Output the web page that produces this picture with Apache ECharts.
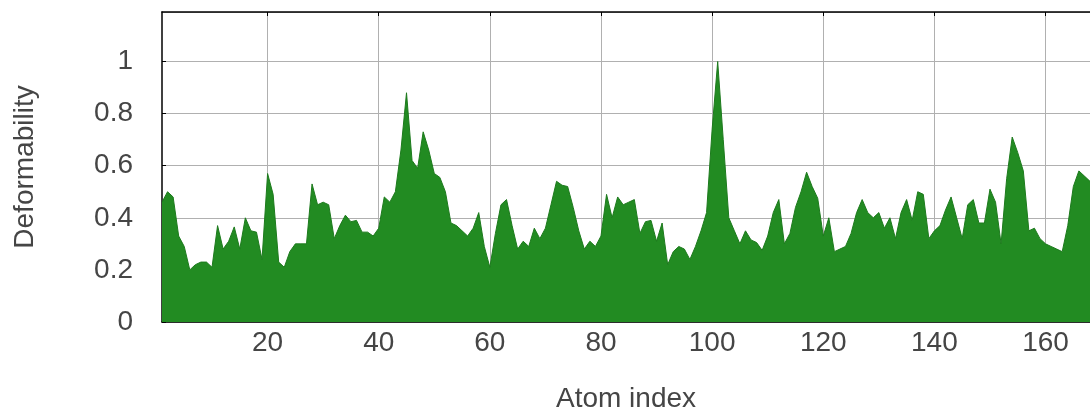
<!DOCTYPE html>
<html>
<head>
<meta charset="utf-8">
<script src="https://cdn.jsdelivr.net/npm/echarts@6/dist/echarts.min.js"></script>
<style>
  html, body { margin: 0; padding: 0; background: #ffffff; }
  #chart { width: 1090px; height: 418px; }
</style>
</head>
<body>
<div id="chart"></div>
<script>
// Atom indices 1..168 (x categories)
const atomIndex = [
  1,2,3,4,5,6,7,8,9,10,11,12,13,14,15,16,17,18,19,20,
  21,22,23,24,25,26,27,28,29,30,31,32,33,34,35,36,37,38,39,40,
  41,42,43,44,45,46,47,48,49,50,51,52,53,54,55,56,57,58,59,60,
  61,62,63,64,65,66,67,68,69,70,71,72,73,74,75,76,77,78,79,80,
  81,82,83,84,85,86,87,88,89,90,91,92,93,94,95,96,97,98,99,100,
  101,102,103,104,105,106,107,108,109,110,111,112,113,114,115,116,117,118,119,120,
  121,122,123,124,125,126,127,128,129,130,131,132,133,134,135,136,137,138,139,140,
  141,142,143,144,145,146,147,148,149,150,151,152,153,154,155,156,157,158,159,160,
  161,162,163,164,165,166,167,168
];

// Deformability per atom
const deformability = [
  0.46,0.50,0.48,0.33,0.29,0.20,0.22,0.23,0.23,0.21,   // 1-10
  0.37,0.28,0.31,0.365,0.28,0.40,0.35,0.345,0.24,0.57, // 11-20
  0.49,0.23,0.21,0.27,0.30,0.30,0.30,0.53,0.45,0.46,   // 21-30
  0.45,0.32,0.37,0.41,0.385,0.39,0.345,0.345,0.33,0.36,// 31-40
  0.48,0.46,0.50,0.66,0.88,0.62,0.59,0.73,0.66,0.57,   // 41-50
  0.555,0.50,0.38,0.37,0.35,0.33,0.36,0.42,0.29,0.21,  // 51-60
  0.34,0.45,0.47,0.37,0.28,0.31,0.29,0.36,0.32,0.36,   // 61-70
  0.45,0.54,0.525,0.52,0.44,0.35,0.28,0.31,0.29,0.33,  // 71-80
  0.49,0.40,0.48,0.45,0.46,0.47,0.34,0.385,0.39,0.31,  // 81-90
  0.38,0.22,0.27,0.29,0.28,0.24,0.29,0.35,0.42,0.74,   // 91-100
  1.00,0.70,0.40,0.35,0.30,0.35,0.315,0.305,0.275,0.33,// 101-110
  0.42,0.47,0.30,0.34,0.44,0.50,0.575,0.52,0.475,0.33, // 111-120
  0.40,0.27,0.28,0.29,0.34,0.42,0.47,0.42,0.40,0.42,   // 121-130
  0.36,0.40,0.32,0.42,0.47,0.39,0.50,0.49,0.32,0.35,   // 131-140
  0.37,0.43,0.48,0.40,0.32,0.45,0.47,0.38,0.38,0.51,   // 141-150
  0.46,0.30,0.55,0.71,0.65,0.58,0.35,0.36,0.32,0.30,   // 151-160
  0.29,0.28,0.27,0.37,0.52,0.58,0.56,0.54              // 161-168
];

const xTickLabels = [20, 40, 60, 80, 100, 120, 140, 160];
const yTickLabels = [0, 0.2, 0.4, 0.6, 0.8, 1];

const textColor = '#454545';
const fontFamily = '"Liberation Sans", Arial, sans-serif';
const fontSize = 28;
const isXTick = (idx, val) => xTickLabels.indexOf(Number(val)) !== -1;

const chart = echarts.init(document.getElementById('chart'), null, { renderer: 'canvas' });
chart.setOption({
  animation: false,
  backgroundColor: '#ffffff',
  grid: { left: 162, right: -4, top: 12, bottom: 96, containLabel: false },
  xAxis: [
    {
      type: 'category',
      data: atomIndex.map(String),
      boundaryGap: false,
      position: 'bottom',
      name: 'Atom index',
      nameLocation: 'middle',
      nameGap: 63,
      nameTextStyle: { color: textColor, fontSize: fontSize, fontFamily: fontFamily },
      axisLine: { show: true, lineStyle: { color: '#000', width: 1.5 } },
      axisTick: { show: true, inside: true, length: 4, interval: isXTick, lineStyle: { color: '#000' } },
      axisLabel: { interval: isXTick, color: textColor, fontSize: fontSize, fontFamily: fontFamily, margin: 7 },
      splitLine: { show: true, interval: isXTick, lineStyle: { color: '#b0b0b0', width: 1 } }
    },
    {
      type: 'category',
      data: atomIndex.map(String),
      boundaryGap: false,
      position: 'top',
      axisLine: { show: true, lineStyle: { color: '#000', width: 1.5 } },
      axisTick: { show: true, inside: true, length: 4, interval: isXTick, lineStyle: { color: '#000' } },
      axisLabel: { show: false },
      splitLine: { show: false }
    }
  ],
  yAxis: {
    type: 'value',
    min: 0,
    max: 1.19,
    interval: 0.2,
    name: 'Deformability',
    nameLocation: 'middle',
    nameGap: 123,
    nameTextStyle: { color: textColor, fontSize: fontSize, fontFamily: fontFamily },
    axisLine: { show: true, lineStyle: { color: '#000', width: 1.5 } },
    axisTick: { show: true, inside: true, length: 4, lineStyle: { color: '#000' } },
    axisLabel: {
      color: textColor, fontSize: fontSize, fontFamily: fontFamily, margin: 29,
      showMaxLabel: false,
      formatter: (v) => {
        const r = Math.round(v * 10) / 10;
        return yTickLabels.indexOf(r) !== -1 ? String(r) : '';
      }
    },
    splitLine: { show: true, lineStyle: { color: '#b0b0b0', width: 1 } }
  },
  series: [{
    type: 'line',
    xAxisIndex: 0,
    data: deformability,
    symbol: 'none',
    smooth: false,
    lineStyle: { color: '#1d7a1d', width: 1 },
    areaStyle: { color: '#228b22', opacity: 1 },
    z: 3
  }]
});
</script>
</body>
</html>
